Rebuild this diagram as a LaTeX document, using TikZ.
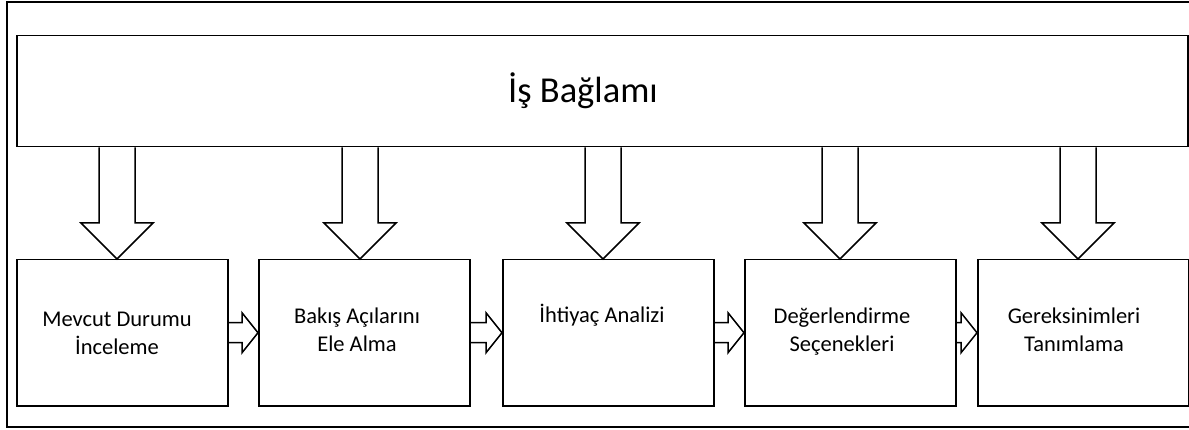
\documentclass[tikz,border=0pt]{standalone}
\usepackage{fontspec}
\setmainfont{Carlito}
\usetikzlibrary{calc}

\tikzset{
  frameline/.style={line width=1.6pt, draw=black},
  blk/.style={line width=1.5pt, draw=black, line join=miter},
  stagebox/.style={draw=black, line width=1.5pt, minimum width=211pt,
    minimum height=146pt, inner sep=0pt, anchor=north west},
  stagetext/.style={anchor=base, align=center, inner sep=0pt,
    font=\fontsize{22.5}{28.5}\selectfont},
}

\begin{document}
\begin{tikzpicture}[x=1pt, y=-1pt]
  \useasboundingbox (0,0) rectangle (1189,430);

  % outer frame (its right side runs off the page)
  \draw[frameline] (1192,2) -- (7,2) -- (7,427) -- (1192,427);

  % context bar
  \node[draw=black, line width=1.5pt, minimum width=1171pt, minimum height=111pt,
        inner sep=0pt, anchor=north west] (top) at (16,35) {};
  \node[anchor=base, inner sep=0pt, font=\fontsize{36.5}{40}\selectfont]
        (title) at (583,103) {İş Bağlamı};

  % stage boxes
  \node[stagebox] (b1) at (16,259) {};
  \node[stagebox] (b2) at (258,259) {};
  \node[stagebox] (b3) at (502,259) {};
  \node[stagebox] (b4) at (744,259) {};
  \node[stagebox] (b5) at (977,259) {};

  % stage labels (base anchor sits on the last line)
  \node[stagetext] (t1) at (117,355) {Mevcut Durumu\\İnceleme};
  \node[stagetext] (t2) at (357,352) {Bakış Açılarını\\Ele Alma};
  \node[stagetext] (t3) at (602,323) {İhtiyaç Analizi};
  \node[stagetext] (t4) at (842,352) {Değerlendirme\\Seçenekleri};
  \node[stagetext] (t5) at (1074,352) {Gereksinimleri\\Tanımlama};

  % centre lines of the downward arrows
  \coordinate (c1) at (117,0);
  \coordinate (c2) at (360,0);
  \coordinate (c3) at (603,0);
  \coordinate (c4) at (840,0);
  \coordinate (c5) at (1078,0);

  % hollow block arrows from the context bar into each stage
  \foreach \i in {1,...,5}{
    \draw[blk]
      ($(top.south -| c\i)+(-18pt,0)$)
      -- ($(b\i.north -| c\i)+(-18pt,36pt)$)
      -- ++(-18pt,0)
      -- (b\i.north -| c\i)
      -- ++(36pt,36pt)
      -- ++(-18pt,0)
      -- ($(top.south -| c\i)+(18pt,0)$);
  }

  % hollow block arrows between consecutive stages
  \foreach \a/\b in {b1/b2,b2/b3,b3/b4,b4/b5}{
    \draw[blk]
      ($(\a.east)+(0,10pt)$)
      -- ($(\b.west)+(-16pt,10pt)$)
      -- ++(0,10pt)
      -- (\b.west)
      -- ++(-16pt,-20pt)
      -- ++(0,10pt)
      -- ($(\a.east)+(0,-10pt)$);
  }
\end{tikzpicture}
\end{document}
